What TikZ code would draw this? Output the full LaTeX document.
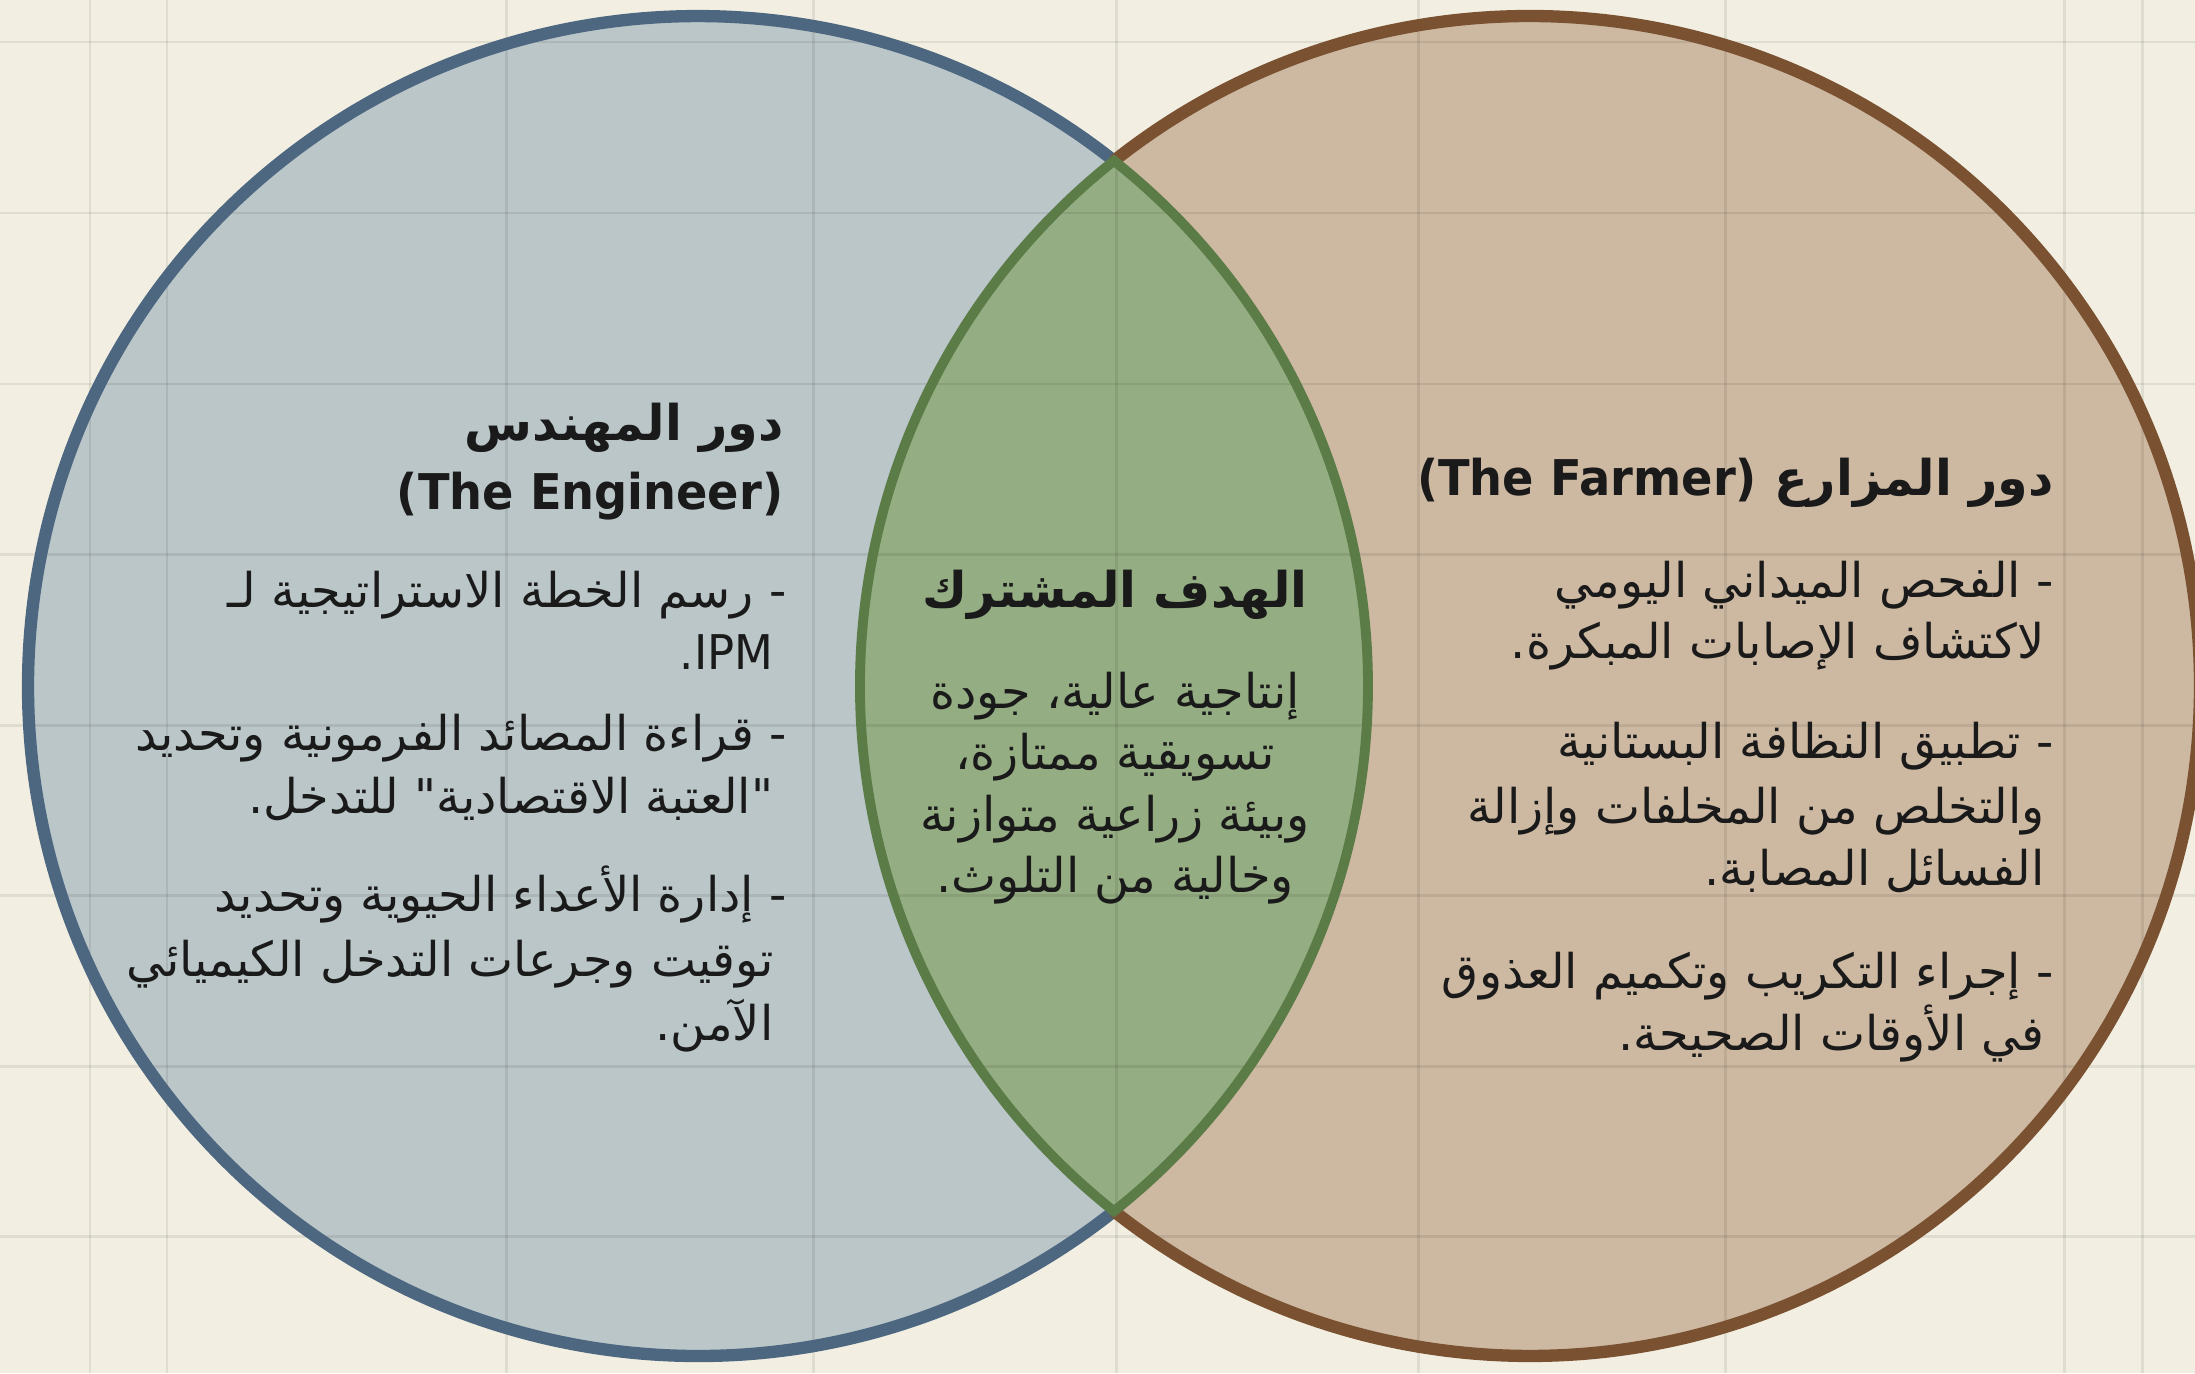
\documentclass[tikz,border=0pt]{standalone}
\usepackage{fontspec}
\TeXXeTstate=1
\newfontfamily\arabicfont[Script=Arabic]{DejaVu Sans}
\newfontfamily\latinfont[FakeStretch=0.94]{DejaVu Sans}
\newcommand\arl[1]{\beginR #1\endR}

\definecolor{paper}{HTML}{F2EFE2}
\definecolor{engfill}{HTML}{BBC6C9}
\definecolor{farmfill}{HTML}{CDB9A2}
\definecolor{goalfill}{HTML}{94AD82}
\definecolor{engline}{HTML}{4D6780}
\definecolor{farmline}{HTML}{7A5232}
\definecolor{goalline}{HTML}{5B7B47}
\definecolor{ink}{HTML}{1A1A1A}

\begin{document}
\begin{tikzpicture}[x=0.01cm, y=-0.01cm,
  gridline/.style={draw=black, opacity=0.08, line width=0.85pt},
  body/.style={font=\arabicfont\fontsize{13.6}{16}\selectfont, text=ink, inner sep=0pt},
  head/.style={font=\arabicfont\bfseries\fontsize{14}{17}\selectfont, text=ink, inner sep=0pt},
  rim/.style={line width=3.5pt},
]
\useasboundingbox (0,0) rectangle (2195,1373);
\fill[paper] (0,0) rectangle (2195,1373);

% circle centres and radius
\coordinate (L) at (698,686);
\coordinate (R) at (1530,686);
\def\rad{670}
\def\ang{51.62}

% fills
\fill[engfill] (L) circle[radius=\rad];
\fill[farmfill] (R) circle[radius=\rad];
\fill[goalfill] (L) ++(-\ang:\rad) arc[start angle=-\ang, end angle=\ang, radius=\rad]
  arc[start angle=180-\ang, end angle=180+\ang, radius=\rad] -- cycle;

% paper grid
\foreach \gx in {90,167,506,813,1116,1418,1725,2064,2142}
  \draw[gridline] (\gx,0) -- (\gx,1373);
\foreach \gy in {42,213,384,554,725,895,1066,1236}
  \draw[gridline] (0,\gy) -- (2195,\gy);

% outlines
\draw[rim, engline] (L) ++(\ang:\rad) arc[start angle=\ang, end angle=360-\ang, radius=\rad];
\draw[rim, farmline] (R) ++(180+\ang:\rad) arc[start angle=-180+\ang, end angle=180-\ang, radius=\rad];
\draw[rim, goalline, line width=2.8pt] (L) ++(-\ang:\rad) arc[start angle=-\ang, end angle=\ang, radius=\rad]
  arc[start angle=180-\ang, end angle=180+\ang, radius=\rad] -- cycle;

% engineer
\node[head, anchor=base east] (engT1) at (784,440) {\arl{دور المهندس}};
\node[head, anchor=base east] (engT2) at (784,509) {\latinfont\bfseries (The Engineer)};
\node[body, anchor=base east] (engA1) at (787,607) {\arl{- رسم الخطة الاستراتيجية لـ}};
\node[body, anchor=base east] (engA2) at (774,669) {\beginR\beginL\latinfont IPM\endL.\endR};
\node[body, anchor=base east] (engB1) at (787,750) {\arl{- قراءة المصائد الفرمونية وتحديد}};
\node[body, anchor=base east] (engB2) at (774,813) {\arl{"العتبة الاقتصادية" للتدخل.}};
\node[body, anchor=base east] (engC1) at (787,911) {\arl{- إدارة الأعداء الحيوية وتحديد}};
\node[body, anchor=base east] (engC2) at (774,976) {\arl{توقيت وجرعات التدخل الكيميائي}};
\node[body, anchor=base east] (engC3) at (774,1040) {\arl{الآمن.}};

% shared goal
\node[head, anchor=base] (goalT) at (1115,607) {\arl{الهدف المشترك}};
\node[body, anchor=base] (goal1) at (1115,708) {\arl{إنتاجية عالية، جودة}};
\node[body, anchor=base] (goal2) at (1115,769) {\arl{تسويقية ممتازة،}};
\node[body, anchor=base] (goal3) at (1115,831) {\arl{وبيئة زراعية متوازنة}};
\node[body, anchor=base] (goal4) at (1115,892) {\arl{وخالية من التلوث.}};

% farmer
\node[head, anchor=base east] (farmT) at (2054,495) {\beginR دور المزارع \beginL\latinfont\bfseries (The Farmer)\endL\endR};
\node[body, anchor=base east] (farmA1) at (2054,597) {\arl{- الفحص الميداني اليومي}};
\node[body, anchor=base east] (farmA2) at (2045,658) {\arl{لاكتشاف الإصابات المبكرة.}};
\node[body, anchor=base east] (farmB1) at (2054,758) {\arl{- تطبيق النظافة البستانية}};
\node[body, anchor=base east] (farmB2) at (2045,823) {\arl{والتخلص من المخلفات وإزالة}};
\node[body, anchor=base east] (farmB3) at (2045,885) {\arl{الفسائل المصابة.}};
\node[body, anchor=base east] (farmC1) at (2054,988) {\arl{- إجراء التكريب وتكميم العذوق}};
\node[body, anchor=base east] (farmC2) at (2045,1050) {\arl{في الأوقات الصحيحة.}};
\end{tikzpicture}
\end{document}
